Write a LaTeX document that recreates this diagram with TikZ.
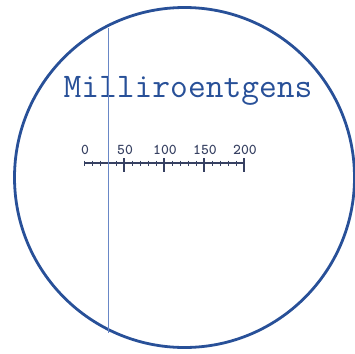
\documentclass[tikz,border=0pt]{standalone}
\usepackage{tikz}
\usetikzlibrary{positioning, calc}

\definecolor{ringblue}{RGB}{40,80,152}
\definecolor{hairblue}{RGB}{105,135,198}
\definecolor{scalegray}{RGB}{55,65,98}

\begin{document}
\begin{tikzpicture}[
  x=1pt, y=-1pt,
  ring/.style={draw=ringblue, line width=2.8pt, circle, minimum size=340pt, inner sep=0pt},
  title/.style={font=\ttfamily\fontsize{34.5}{34.5}\selectfont, text=ringblue, anchor=base, inner sep=0pt},
  num/.style={font=\ttfamily\bfseries\fontsize{15}{15}\selectfont, text=scalegray, anchor=base, inner sep=0pt},
  hair/.style={draw=hairblue, line width=1pt},
  axis/.style={draw=scalegray, line width=1.3pt},
  minortick/.style={draw=scalegray, line width=0.9pt},
  majortick/.style={draw=scalegray, line width=1.6pt}
]
\useasboundingbox (0,0) rectangle (355,353);
\node[ring] (dial) at (184.5,177.5) {};
\node[title] (unit) at (188,97) {Milliroentgens};

% scale: 0.8 units per mR
\coordinate (zero) at (84,163);
\coordinate (full) at (245,163);
\draw[axis] (zero) -- (full);
\foreach \v in {0,10,...,190}
  \draw[minortick] ($(zero)+(0.8*\v,-2.5)$) -- ($(zero)+(0.8*\v,3)$);
\foreach \v in {50,100,150,200}
  \draw[majortick] ($(zero)+(0.8*\v,-5)$) -- ($(zero)+(0.8*\v,9)$);
\foreach \v in {0,50,100,150,200}
  \node[num] (n\v) at ($(zero)+(0.8*\v+1,-9)$) {\v};

% cursor
\coordinate (hairtop) at (108,28);
\coordinate (hairbot) at (108,333);
\draw[hair] (hairtop) -- (hairbot);
\end{tikzpicture}
\end{document}
